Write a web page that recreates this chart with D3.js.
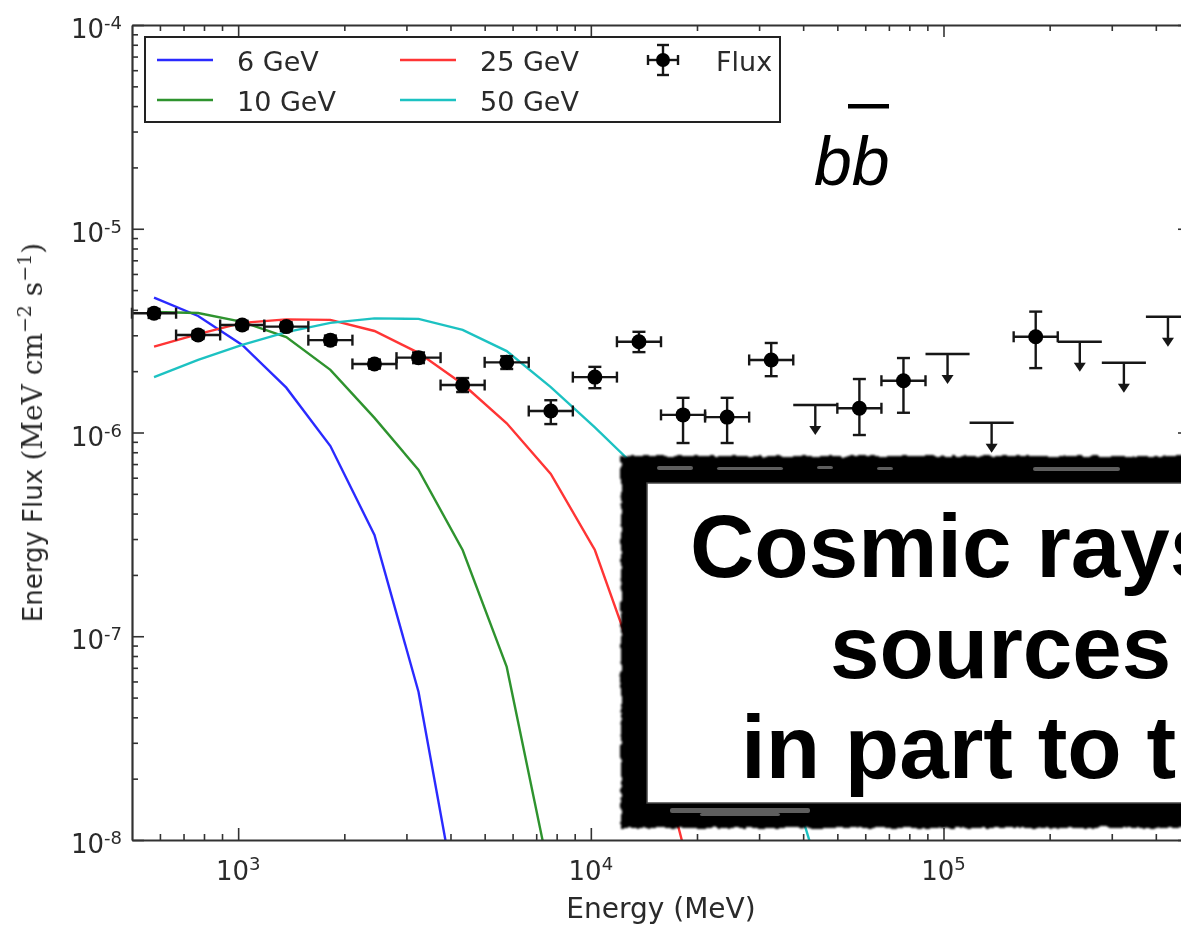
<!DOCTYPE html>
<html>
<head>
<meta charset="utf-8">
<script src="https://cdn.jsdelivr.net/npm/d3@7"></script>
<style>
  body { margin: 0; background: #fff; }
  svg { display: block; }
</style>
</head>
<body>
<svg id="chart" width="1181" height="927"></svg>
<script>
// ---- Data -----------------------------------------------------------------
// Energy bins (MeV): geometric bin centres and bin edges (8 bins per decade)
const energyCenters = [577.4, 769.9, 1026.8, 1369.2, 1825.9, 2434.9, 3247.0, 4329.9,
  5774.0, 7699.7, 10267.6, 13692, 18259, 24349, 32470, 43299,
  57740, 76997, 102676, 136920, 182587, 243486, 324700, 432990];
const binEdges = [500, 666.8, 889.1, 1185.7, 1581.1, 2108.5, 2811.7, 3749.5,
  5000, 6667.6, 8891.4, 11857, 15811, 21085, 28117, 37495,
  50000, 66676, 88914, 118569, 158114, 210849, 281171, 374947, 500000];

// Measured energy flux (MeV cm^-2 s^-1); null where only an upper limit exists
const fluxValues = [3.85e-6, 3.01e-6, 3.37e-6, 3.31e-6, 2.84e-6, 2.17e-6, 2.33e-6, 1.71e-6,
  2.21e-6, 1.275e-6, 1.87e-6, 2.79e-6, 1.22e-6, 1.19e-6, 2.27e-6, null,
  1.315e-6, 1.795e-6, null, null, 2.95e-6, null, null, null];
const fluxLow = [3.65e-6, 2.88e-6, 3.22e-6, 3.15e-6, 2.70e-6, 2.06e-6, 2.19e-6, 1.58e-6,
  2.05e-6, 1.10e-6, 1.65e-6, 2.48e-6, 8.88e-7, 8.88e-7, 1.89e-6, null,
  9.72e-7, 1.25e-6, null, null, 2.07e-6, null, null, null];
const fluxHigh = [4.04e-6, 3.15e-6, 3.53e-6, 3.47e-6, 2.99e-6, 2.28e-6, 2.47e-6, 1.85e-6,
  2.37e-6, 1.44e-6, 2.10e-6, 3.12e-6, 1.48e-6, 1.48e-6, 2.75e-6, null,
  1.83e-6, 2.32e-6, null, null, 3.92e-6, null, null, null];
const upperLimits = [null, null, null, null, null, null, null, null,
  null, null, null, null, null, null, null, 1.365e-6,
  null, null, 2.43e-6, 1.117e-6, null, 2.79e-6, 2.20e-6, 3.70e-6];

// Dark-matter (b bbar) model spectra, evaluated at the first bin centres
const model6GeV = [4.59e-6, 3.73e-6, 2.69e-6, 1.66e-6, 8.58e-7, 3.14e-7, 5.33e-8, 3.42e-9];
const model10GeV = [3.90e-6, 3.86e-6, 3.49e-6, 2.94e-6, 2.03e-6, 1.18e-6, 6.55e-7, 2.65e-7,
  7.07e-8, 6.36e-9];
const model25GeV = [2.64e-6, 3.04e-6, 3.45e-6, 3.59e-6, 3.57e-6, 3.15e-6, 2.46e-6, 1.73e-6,
  1.11e-6, 6.26e-7, 2.65e-7, 6.53e-8, 9.45e-9];
const model50GeV = [1.87e-6, 2.27e-6, 2.69e-6, 3.11e-6, 3.45e-6, 3.63e-6, 3.61e-6, 3.19e-6,
  2.51e-6, 1.67e-6, 1.06e-6, 6.55e-7, 3.32e-7, 1.35e-7, 4.11e-8, 7.98e-9];

const seriesLabels = ["6 GeV", "10 GeV", "25 GeV", "50 GeV"];
const seriesColors = ["#2b2bff", "#2f932f", "#ff3434", "#1fc2c2"];

// Axis ticks
const xMajorExp = [3, 4, 5];
const yMajorExp = [-8, -7, -6, -5, -4];
const xMinorTicks = [600, 700, 800, 900, 2e3, 3e3, 4e3, 5e3, 6e3, 7e3, 8e3, 9e3,
  2e4, 3e4, 4e4, 5e4, 6e4, 7e4, 8e4, 9e4, 2e5, 3e5, 4e5];
const yMinorTicks = [2e-8, 3e-8, 4e-8, 5e-8, 6e-8, 7e-8, 8e-8, 9e-8,
  2e-7, 3e-7, 4e-7, 5e-7, 6e-7, 7e-7, 8e-7, 9e-7,
  2e-6, 3e-6, 4e-6, 5e-6, 6e-6, 7e-6, 8e-6, 9e-6,
  2e-5, 3e-5, 4e-5, 5e-5, 6e-5, 7e-5, 8e-5, 9e-5];

const overlayLines = ["Cosmic rays", "sources", "in part to the"];

// ---- Layout ---------------------------------------------------------------
const plot = { left: 132, right: 1190, top: 25, bottom: 840 };
const svg = d3.select("#chart");
const FONT = "'DejaVu Sans', sans-serif";
const INK = "#2a2a2a";

const defs = svg.append("defs");
defs.append("filter").attr("id", "soft")
  .attr("x", "-2%").attr("y", "-2%").attr("width", "104%").attr("height", "104%")
  .append("feGaussianBlur").attr("stdDeviation", 0.6);
defs.append("clipPath").attr("id", "plotClip")
  .append("rect").attr("x", plot.left).attr("y", plot.top)
  .attr("width", plot.right - plot.left).attr("height", plot.bottom - plot.top);
// Worn, hand-printed look for the caption frame
const rough = defs.append("filter").attr("id", "rough")
  .attr("x", "-3%").attr("y", "-6%").attr("width", "106%").attr("height", "112%");
rough.append("feTurbulence").attr("type", "fractalNoise")
  .attr("baseFrequency", "0.12 0.2").attr("numOctaves", 2).attr("seed", 7).attr("result", "noise");
rough.append("feDisplacementMap").attr("in", "SourceGraphic").attr("in2", "noise")
  .attr("scale", 5).attr("xChannelSelector", "R").attr("yChannelSelector", "G").attr("result", "disp");
rough.append("feGaussianBlur").attr("in", "disp").attr("stdDeviation", 0.8);

svg.append("rect").attr("width", 1181).attr("height", 927).attr("fill", "#fff");

const x = d3.scaleLog().domain([500, 5e5]).range([plot.left, plot.right]);
const y = d3.scaleLog().domain([1e-8, 1e-4]).range([plot.bottom, plot.top]);

const chart = svg.append("g").attr("filter", "url(#soft)");

// ---- Model curves -----------------------------------------------------------
const models = [model6GeV, model10GeV, model25GeV, model50GeV];
const line = d3.line().x(d => x(d[0])).y(d => y(d[1]));
const curves = chart.append("g").attr("clip-path", "url(#plotClip)");
models.forEach((vals, i) => {
  curves.append("path")
    .datum(vals.map((v, k) => [energyCenters[k], v]))
    .attr("d", line)
    .attr("fill", "none")
    .attr("stroke", seriesColors[i])
    .attr("stroke-width", 2.4);
});

// ---- Flux points with error bars ------------------------------------------
const bins = energyCenters.map((e, i) => ({
  e, lo: binEdges[i], hi: binEdges[i + 1],
  f: fluxValues[i], fl: fluxLow[i], fh: fluxHigh[i], ul: upperLimits[i]
}));
const pts = chart.append("g").attr("stroke", "#161616").attr("stroke-width", 2.4);
const CAP = 5.5;
bins.filter(d => d.f !== null).forEach(d => {
  const cx = x(d.e), cy = y(d.f);
  const x0 = x(d.lo), x1 = x(d.hi), y0 = y(d.fl), y1 = y(d.fh);
  pts.append("line").attr("x1", x0).attr("x2", x1).attr("y1", cy).attr("y2", cy);
  pts.append("line").attr("x1", x0).attr("x2", x0).attr("y1", cy - CAP).attr("y2", cy + CAP);
  pts.append("line").attr("x1", x1).attr("x2", x1).attr("y1", cy - CAP).attr("y2", cy + CAP);
  pts.append("line").attr("x1", cx).attr("x2", cx).attr("y1", y0).attr("y2", y1);
  pts.append("line").attr("x1", cx - CAP - 1).attr("x2", cx + CAP + 1).attr("y1", y0).attr("y2", y0);
  pts.append("line").attr("x1", cx - CAP - 1).attr("x2", cx + CAP + 1).attr("y1", y1).attr("y2", y1);
  pts.append("circle").attr("cx", cx).attr("cy", cy).attr("r", 7.5)
    .attr("fill", "#000").attr("stroke", "none");
});
// Upper limits: bar across the bin and a downward arrow
const ARROW = 30;
bins.filter(d => d.ul !== null).forEach(d => {
  const cx = x(d.e), cy = y(d.ul);
  pts.append("line").attr("x1", x(d.lo)).attr("x2", x(d.hi)).attr("y1", cy).attr("y2", cy);
  pts.append("line").attr("x1", cx).attr("x2", cx).attr("y1", cy).attr("y2", cy + ARROW - 8);
  pts.append("path")
    .attr("d", `M${cx - 6},${cy + ARROW - 9} L${cx + 6},${cy + ARROW - 9} L${cx},${cy + ARROW} Z`)
    .attr("fill", "#161616").attr("stroke", "none");
});

// ---- Axes ------------------------------------------------------------------
function styleAxis(g) {
  g.select(".domain").attr("stroke", "#333").attr("stroke-width", 2.2);
  g.selectAll(".tick line").attr("stroke", "#333").attr("stroke-width", 1.6);
  g.selectAll(".tick text").remove();
}
function minorOnly(g) { g.select(".domain").remove(); }

const axes = chart.append("g");
const xMajor = xMajorExp.map(p => Math.pow(10, p));
const yMajor = yMajorExp.map(p => Math.pow(10, p));

axes.append("g").attr("transform", `translate(0,${plot.bottom})`)
  .call(d3.axisBottom(x).tickValues(xMajor).tickSize(-12).tickSizeOuter(0)).call(styleAxis);
axes.append("g").attr("transform", `translate(0,${plot.bottom})`)
  .call(d3.axisBottom(x).tickValues(xMinorTicks).tickSize(-6)).call(styleAxis).call(minorOnly);
axes.append("g").attr("transform", `translate(0,${plot.top})`)
  .call(d3.axisTop(x).tickValues(xMajor).tickSize(-12).tickSizeOuter(0)).call(styleAxis);
axes.append("g").attr("transform", `translate(0,${plot.top})`)
  .call(d3.axisTop(x).tickValues(xMinorTicks).tickSize(-6)).call(styleAxis).call(minorOnly);
axes.append("g").attr("transform", `translate(${plot.left},0)`)
  .call(d3.axisLeft(y).tickValues(yMajor).tickSize(-12).tickSizeOuter(0)).call(styleAxis);
axes.append("g").attr("transform", `translate(${plot.left},0)`)
  .call(d3.axisLeft(y).tickValues(yMinorTicks).tickSize(-6)).call(styleAxis).call(minorOnly);
axes.append("g").attr("transform", `translate(${plot.right},0)`)
  .call(d3.axisRight(y).tickValues(yMajor).tickSize(-12).tickSizeOuter(0)).call(styleAxis);
axes.append("g").attr("transform", `translate(${plot.right},0)`)
  .call(d3.axisRight(y).tickValues(yMinorTicks).tickSize(-6)).call(styleAxis).call(minorOnly);

// Tick labels as 10^n
const labels = chart.append("g").attr("font-family", FONT).attr("fill", INK);
yMajorExp.forEach(p => {
  const t = labels.append("text").attr("x", plot.left - 10).attr("y", y(Math.pow(10, p)) + 13)
    .attr("text-anchor", "end").attr("font-size", 26);
  t.append("tspan").text("10");
  t.append("tspan").attr("dy", -9).attr("font-size", 18).text("-" + Math.abs(p));
});
xMajorExp.forEach(p => {
  const t = labels.append("text").attr("x", x(Math.pow(10, p))).attr("y", plot.bottom + 40)
    .attr("text-anchor", "middle").attr("font-size", 26);
  t.append("tspan").text("10");
  t.append("tspan").attr("dy", -10).attr("font-size", 18).text(p);
});

// Axis titles
labels.append("text").attr("x", (plot.left + plot.right) / 2).attr("y", 918)
  .attr("text-anchor", "middle").attr("font-size", 28).text("Energy (MeV)");
const yl = labels.append("text")
  .attr("transform", `translate(42,${(plot.top + plot.bottom) / 2}) rotate(-90)`)
  .attr("text-anchor", "middle").attr("font-size", 26);
yl.append("tspan").text("Energy Flux ");
const SERIF = "'DejaVu Serif', 'Liberation Serif', serif";
yl.append("tspan").attr("font-family", SERIF).attr("font-size", 28).text("(MeV cm");
yl.append("tspan").attr("font-family", SERIF).attr("font-size", 19).attr("dy", -11).text("−2");
yl.append("tspan").attr("font-family", SERIF).attr("font-size", 28).attr("dy", 11).text(" s");
yl.append("tspan").attr("font-family", SERIF).attr("font-size", 19).attr("dy", -11).text("−1");
yl.append("tspan").attr("font-family", SERIF).attr("font-size", 28).attr("dy", 11).text(")");

// ---- Legend ------------------------------------------------------------------
const legend = chart.append("g").attr("font-family", FONT).attr("font-size", 27).attr("fill", INK);
legend.append("rect").attr("x", 145).attr("y", 37).attr("width", 635).attr("height", 85)
  .attr("fill", "#fff").attr("stroke", "#222").attr("stroke-width", 2);
seriesLabels.forEach((lab, i) => {
  const col = Math.floor(i / 2), row = i % 2;
  const lx = 157 + col * 243, ly = 60 + row * 40;
  legend.append("line").attr("x1", lx).attr("x2", lx + 56).attr("y1", ly).attr("y2", ly)
    .attr("stroke", seriesColors[i]).attr("stroke-width", 2.6);
  legend.append("text").attr("x", lx + 80).attr("y", ly + 11).text(lab);
});
{
  const mx = 663, my = 60, g = legend.append("g").attr("stroke", "#161616").attr("stroke-width", 2.4);
  g.append("line").attr("x1", mx - 15).attr("x2", mx + 15).attr("y1", my).attr("y2", my);
  g.append("line").attr("x1", mx).attr("x2", mx).attr("y1", my - 15).attr("y2", my + 15);
  g.append("line").attr("x1", mx - 15).attr("x2", mx - 15).attr("y1", my - 5).attr("y2", my + 5);
  g.append("line").attr("x1", mx + 15).attr("x2", mx + 15).attr("y1", my - 5).attr("y2", my + 5);
  g.append("line").attr("x1", mx - 6).attr("x2", mx + 6).attr("y1", my - 15).attr("y2", my - 15);
  g.append("line").attr("x1", mx - 6).attr("x2", mx + 6).attr("y1", my + 15).attr("y2", my + 15);
  g.append("circle").attr("cx", mx).attr("cy", my).attr("r", 7).attr("fill", "#000").attr("stroke", "none");
  legend.append("text").attr("x", 716).attr("y", my + 11).text("Flux");
}

// Channel annotation: b b-bar
const chan = chart.append("g");
chan.append("text").attr("x", 814).attr("y", 185)
  .attr("font-family", "'Liberation Sans', Arial, sans-serif").attr("font-style", "italic")
  .attr("font-size", 68).attr("fill", "#000").text("bb");
chan.append("rect").attr("x", 848).attr("y", 104).attr("width", 41).attr("height", 4.5).attr("fill", "#000");

// ---- Overlaid caption box ------------------------------------------------------
const box = svg.append("g");
box.append("rect").attr("x", 621).attr("y", 456).attr("width", 620).attr("height", 372)
  .attr("fill", "#000").attr("filter", "url(#rough)");
const streaks = [
  [657, 466, 36, 4], [717, 467, 66, 3], [817, 466, 16, 3], [877, 467, 16, 3],
  [1033, 467, 87, 4], [670, 808, 140, 5], [700, 813, 80, 3]
];
box.selectAll("rect.streak").data(streaks).enter().append("rect")
  .attr("class", "streak")
  .attr("x", d => d[0]).attr("y", d => d[1]).attr("width", d => d[2]).attr("height", d => d[3])
  .attr("rx", 2).attr("fill", "#bbb").attr("opacity", 0.5).attr("filter", "url(#soft)");
box.append("rect").attr("x", 647).attr("y", 483).attr("width", 600).attr("height", 320)
  .attr("fill", "#fff").attr("stroke", "#444").attr("stroke-width", 1.5);
const capX = [690, 830, 741];
overlayLines.forEach((t, i) => {
  box.append("text").attr("x", capX[i]).attr("y", 577 + i * 100.5)
    .attr("font-family", "'Liberation Sans', Arial, sans-serif").attr("font-weight", "bold")
    .attr("font-size", 89).attr("fill", "#000").text(t);
});
</script>
</body>
</html>
